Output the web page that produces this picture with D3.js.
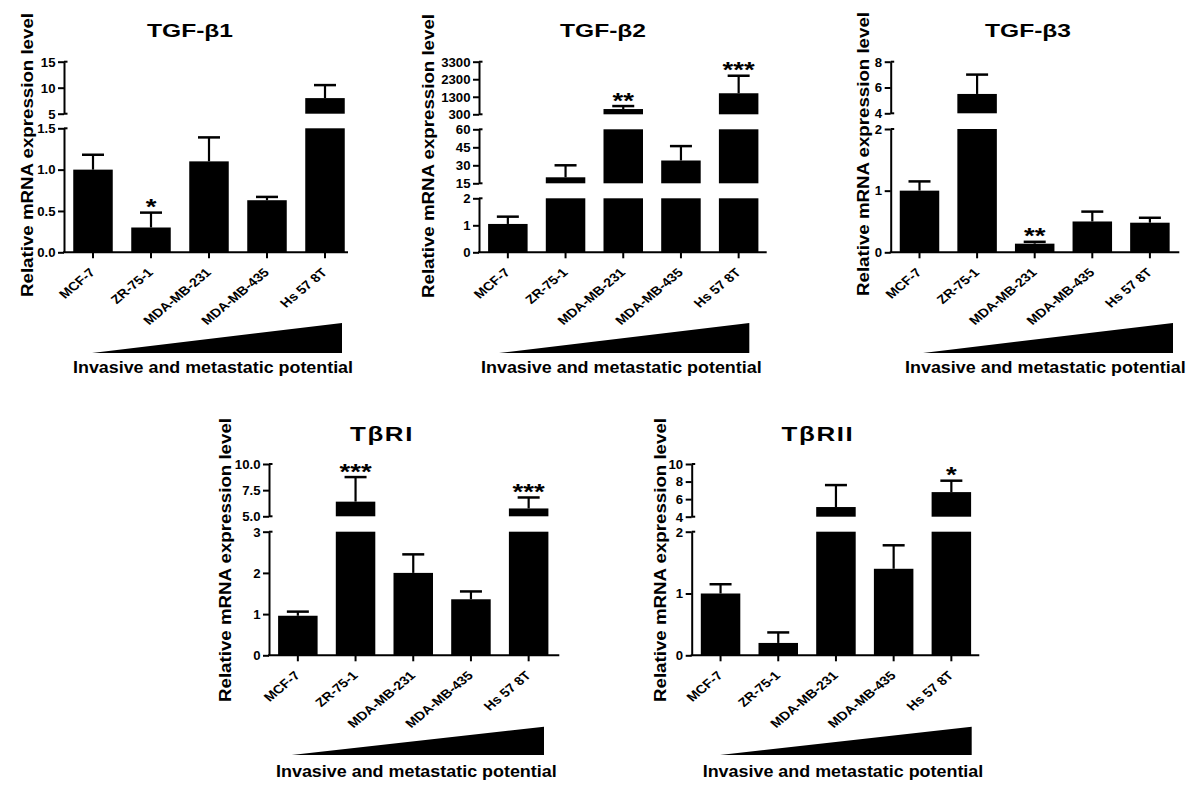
<!DOCTYPE html>
<html><head><meta charset="utf-8">
<script src="https://cdn.jsdelivr.net/npm/d3@7"></script>
<style>
body{margin:0;background:#fff}
text{font-family:"Liberation Sans",Arial,sans-serif;font-weight:bold;fill:#000}
</style>
</head><body><svg id="c" width="1200" height="787"></svg>
<script>
// ---------------- DATA ----------------
const cellLines = ["MCF-7", "ZR-75-1", "MDA-MB-231", "MDA-MB-435", "Hs 57 8T"];

const tgfb1Mean = [1.00, 0.30, 1.10, 0.63, 8.0];
const tgfb1Sem  = [0.18, 0.18, 0.29, 0.04, 2.5];
const tgfb1Sig  = ["", "*", "", "", ""];
const tgfb1Breaks = [[0, 1.5], [5, 15]];
const tgfb1Ticks  = [[0, 0.5, 1.0, 1.5], [5, 10, 15]];
const tgfb1TickLabels = [["0.0", "0.5", "1.0", "1.5"], ["5", "10", "15"]];

const tgfb2Mean = [1.05, 20, 600, 34, 1500];
const tgfb2Sem  = [0.27, 10, 170, 12, 1000];
const tgfb2Sig  = ["", "", "**", "", "***"];
const tgfb2Breaks = [[0, 2], [15, 60], [300, 3300]];
const tgfb2Ticks  = [[0, 1, 2], [15, 30, 45, 60], [300, 1300, 2300, 3300]];
const tgfb2TickLabels = [["0", "1", "2"], ["15", "30", "45", "60"], ["300", "1300", "2300", "3300"]];

const tgfb3Mean = [1.00, 5.5, 0.14, 0.50, 0.48];
const tgfb3Sem  = [0.15, 1.5, 0.03, 0.16, 0.08];
const tgfb3Sig  = ["", "", "**", "", ""];
const tgfb3Breaks = [[0, 2], [4, 8]];
const tgfb3Ticks  = [[0, 1, 2], [4, 6, 8]];
const tgfb3TickLabels = [["0", "1", "2"], ["4", "6", "8"]];

const tbr1Mean = [0.96, 6.4, 2.00, 1.36, 5.75];
const tbr1Sem  = [0.10, 2.35, 0.45, 0.19, 1.05];
const tbr1Sig  = ["", "***", "", "", "***"];
const tbr1Breaks = [[0, 3], [5, 10]];
const tbr1Ticks  = [[0, 1, 2, 3], [5, 7.5, 10]];
const tbr1TickLabels = [["0", "1", "2", "3"], ["5.0", "7.5", "10.0"]];

const tbr2Mean = [1.00, 0.20, 5.1, 1.40, 6.8];
const tbr2Sem  = [0.15, 0.17, 2.5, 0.38, 1.3];
const tbr2Sig  = ["", "", "", "", "*"];
const tbr2Breaks = [[0, 2], [4, 10]];
const tbr2Ticks  = [[0, 1, 2], [4, 6, 8, 10]];
const tbr2TickLabels = [["0", "1", "2"], ["4", "6", "8", "10"]];

const titles = ["TGF-\u03B21", "TGF-\u03B22", "TGF-\u03B23", "T\u03B2RI", "T\u03B2RII"];
const yAxisTitle = "Relative mRNA expression level";
const gradientLabel = "Invasive and metastatic potential";

// ---------------- LAYOUT ----------------
const panels = [
  {mean: tgfb1Mean, sem: tgfb1Sem, sig: tgfb1Sig, breaks: tgfb1Breaks, ticks: tgfb1Ticks, tl: tgfb1TickLabels,
   axisX: 64, xEnd: 348, step: 58, segPx: [[252.3, 128.3], [113.7, 61.7]], titleFs: 18.5, titleLs: 0,
   titleX: 190, titleY: 37, ylabX: 27, ylabY: 155, triL: 92, triR: 342, triTop: 323, triBase: 353, invL: 73, invR: 353, invY: 373},
  {mean: tgfb2Mean, sem: tgfb2Sem, sig: tgfb2Sig, breaks: tgfb2Breaks, ticks: tgfb2Ticks, tl: tgfb2TickLabels,
   axisX: 479, xEnd: 766.7, step: 57.7, segPx: [[252.3, 198.3], [183.3, 129.3], [114.3, 61.7]], titleFs: 18.5, titleLs: 0,
   titleX: 603, titleY: 37, ylabX: 428, ylabY: 156, triL: 499, triR: 749.3, triTop: 323, triBase: 353, invL: 481, invR: 761.7, invY: 373},
  {mean: tgfb3Mean, sem: tgfb3Sem, sig: tgfb3Sig, breaks: tgfb3Breaks, ticks: tgfb3Ticks, tl: tgfb3TickLabels,
   axisX: 890.7, xEnd: 1179.3, step: 57.6, segPx: [[252.3, 129], [113.3, 61.7]], titleFs: 18.5, titleLs: 0,
   titleX: 1028, titleY: 37, ylabX: 863, ylabY: 154, triL: 923, triR: 1173, triTop: 323, triBase: 353, invL: 905, invR: 1185.7, invY: 373},
  {mean: tbr1Mean, sem: tbr1Sem, sig: tbr1Sig, breaks: tbr1Breaks, ticks: tbr1Ticks, tl: tbr1TickLabels,
   axisX: 269, xEnd: 559.3, step: 57.7, segPx: [[655.3, 531.7], [516.3, 464]], titleFs: 19.5, titleLs: 1.2,
   titleX: 382, titleY: 441, ylabX: 225, ylabY: 560, triL: 291.7, triR: 544, triTop: 726.7, triBase: 755, invL: 276, invR: 556.7, invY: 777},
  {mean: tbr2Mean, sem: tbr2Sem, sig: tbr2Sig, breaks: tbr2Breaks, ticks: tbr2Ticks, tl: tbr2TickLabels,
   axisX: 691.7, xEnd: 979.3, step: 57.7, segPx: [[655.3, 531.7], [516.7, 464]], titleFs: 19.5, titleLs: 1.2,
   titleX: 818, titleY: 441, ylabX: 660, ylabY: 560, triL: 720, triR: 971.7, triTop: 726.7, triBase: 755, invL: 702.7, invR: 983.3, invY: 777}
];

const SX = 1.33;     // horizontal stretch of the original figure's title text
const barW = 39.5;
const capW = 22;

const svg = d3.select("#c");

panels.forEach((p, pi) => {
  const g = svg.append("g");
  const pad = 1 - barW / p.step;
  const x = d3.scaleBand().domain(cellLines)
    .range([p.axisX, p.axisX + 5 * p.step])
    .paddingInner(pad).paddingOuter(pad / 2);
  const ys = p.breaks.map((b, i) => d3.scaleLinear().domain(b).range(p.segPx[i]));
  const y0 = p.segPx[0][0];

  // bars (split across breaks)
  cellLines.forEach((c, i) => {
    const m = p.mean[i];
    p.breaks.forEach((b, s) => {
      if (m > b[0]) {
        const top = ys[s](Math.min(m, b[1]));
        g.append("rect").attr("x", x(c)).attr("width", x.bandwidth())
          .attr("y", top).attr("height", ys[s](b[0]) - top).attr("fill", "#000");
      }
    });
    // error bar
    let s = 0;
    p.breaks.forEach((b, k) => { if (m > b[0]) s = k; });
    const cx = x(c) + x.bandwidth() / 2;
    const yt = ys[s](m + p.sem[i]);
    g.append("line").attr("x1", cx).attr("x2", cx).attr("y1", ys[s](m)).attr("y2", yt)
      .attr("stroke", "#000").attr("stroke-width", 2.2);
    g.append("line").attr("x1", cx - capW / 2).attr("x2", cx + capW / 2).attr("y1", yt).attr("y2", yt)
      .attr("stroke", "#000").attr("stroke-width", 2.5);
    if (p.sig[i]) {
      g.append("text").attr("text-anchor", "middle").attr("font-size", 22)
        .attr("transform", `translate(${cx},${yt + 1.5}) scale(1.25,1)`).text(p.sig[i]);
    }
  });

  // y axis segments
  ys.forEach((yS, s) => {
    const ax = g.append("g").attr("transform", `translate(${p.axisX},0)`)
      .call(d3.axisLeft(yS).tickValues(p.ticks[s]).tickFormat((d, j) => p.tl[s][j]).tickSize(6).tickSizeOuter(0));
    ax.attr("font-family", null).attr("font-size", null);
    ax.select(".domain").attr("stroke-width", 2);
    ax.selectAll(".tick line").attr("stroke-width", 2);
    ax.selectAll(".tick text").attr("x", null).attr("dy", "0.36em")
      .attr("transform", `translate(-8.5,0) scale(1.1,1)`)
      .attr("font-size", 12);
    // small right-hand stubs at the segment ends
    p.segPx[s].forEach(yy => {
      if (!(s === 0 && yy === y0)) {
        g.append("line").attr("x1", p.axisX).attr("x2", p.axisX + 3.5).attr("y1", yy).attr("y2", yy)
          .attr("stroke", "#000").attr("stroke-width", 2);
      }
    });
  });

  // x axis
  const xa = g.append("g").attr("transform", `translate(0,${y0})`)
    .call(d3.axisBottom(x).tickSize(6).tickSizeOuter(0));
  xa.select(".domain").remove();
  xa.attr("font-family", null).attr("font-size", null);
  xa.selectAll(".tick line").attr("stroke-width", 2);
  xa.selectAll(".tick text").attr("y", null).attr("dy", null)
    .attr("text-anchor", "end").attr("font-size", 12)
    .attr("transform", `translate(3,21) scale(1.2,1) rotate(-45)`);
  g.append("line").attr("x1", p.axisX - 1).attr("x2", p.xEnd).attr("y1", y0).attr("y2", y0)
    .attr("stroke", "#000").attr("stroke-width", 2);

  // title
  g.append("text").attr("text-anchor", "middle").attr("font-size", p.titleFs)
    .attr("letter-spacing", p.titleLs)
    .attr("transform", `translate(${p.titleX},${p.titleY}) scale(${SX},1)`).text(titles[pi]);

  // y axis title
  g.append("text").attr("text-anchor", "middle").attr("font-size", 16.5)
    .attr("dominant-baseline", "central")
    .attr("transform", `translate(${p.ylabX},${p.ylabY}) rotate(-90)`)
    .attr("textLength", 284).attr("lengthAdjust", "spacingAndGlyphs")
    .text(yAxisTitle);

  // gradient triangle
  g.append("path")
    .attr("d", `M${p.triL},${p.triBase}L${p.triR},${p.triTop}L${p.triR},${p.triBase}Z`)
    .attr("fill", "#000");
  g.append("text").attr("x", p.invL).attr("y", p.invY).attr("font-size", 16.5)
    .attr("textLength", p.invR - p.invL).attr("lengthAdjust", "spacingAndGlyphs")
    .text(gradientLabel);
});
</script>
</body></html>
